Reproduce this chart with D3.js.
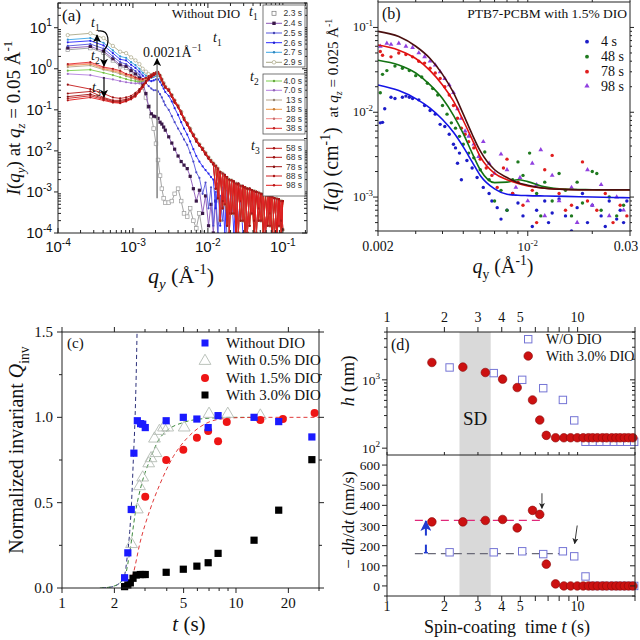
<!DOCTYPE html>
<html><head><meta charset="utf-8">
<script src="https://cdn.jsdelivr.net/npm/d3@7/dist/d3.min.js"></script>
<style>html,body{margin:0;padding:0;background:#fff}svg{display:block}</style>
</head><body>
<svg id="fig" width="640" height="640" xmlns="http://www.w3.org/2000/svg"></svg>
<script>
// ================= DATA =================
// ---- Panel (a): I(qy) vs qy, without DIO ----
const aQHead = [1.35e-4,2.7e-4,4.05e-4,5.4e-4,6.75e-4,8.1e-4,9.45e-4,1.08e-3,1.22e-3,1.35e-3,1.49e-3,1.62e-3,1.76e-3,1.89e-3,2.03e-3,2.16e-3,2.3e-3,2.43e-3,2.57e-3,2.7e-3];
const aQTail = [0.0030,0.0033,0.0036,0.0040,0.0044,0.0048,0.0053,0.0058,0.0064,0.0070,0.0077,0.0085,0.0093,0.0102,0.0110,0.0118,0.0127,0.0136,0.0146,0.0157,0.0168,0.0180,0.0193,0.0207,0.0222,0.0238,0.0255,0.0273,0.0293,0.0314,0.0336,0.0360,0.0386,0.0414,0.0444,0.0476,0.0510,0.0547,0.0586,0.0628,0.0673,0.0721,0.0773,0.0829,0.0888,0.0952,0.1000];
const aNames = ['2.3 s','2.4 s','2.5 s','2.6 s','2.7 s','2.9 s','4.0 s','7.0 s','13 s','18 s','28 s','38 s','58 s','68 s','78 s','88 s','98 s'];
const h23 = [2.9,3.2,2.45,1.6,1.15,1.05,0.82,0.68,0.5,0.35,0.2,0.12,0.07,0.035,0.015,0.006,0.0025,0.0012,0.0007,0.00055];
const h24 = [3.2,3.5,2.7,1.75,1.25,1.15,0.9,0.75,0.6,0.45,0.25,0.12,0.08,0.07,0.068,0.062,0.05,0.045,0.038,0.032];
const h25 = [3.6,4.0,3.1,2.0,1.45,1.3,1.05,0.88,0.72,0.56,0.45,0.38,0.33,0.3,0.3,0.28,0.24,0.2,0.16,0.13];
const h26 = [4.4,4.8,3.7,2.4,1.7,1.6,1.25,1.05,0.85,0.68,0.58,0.52,0.5,0.52,0.55,0.55,0.48,0.4,0.33,0.27];
const h27 = [5.1,5.6,4.3,2.8,2.0,1.85,1.45,1.23,1.0,0.8,0.68,0.62,0.6,0.63,0.67,0.68,0.6,0.5,0.42,0.35];
const h29 = [6.6,7.3,5.6,3.6,2.6,2.4,1.9,1.6,1.3,1.0,0.85,0.74,0.7,0.72,0.76,0.78,0.68,0.55,0.45,0.37];
const h40 = [0.9,0.95,0.8,0.7,0.62,0.56,0.52,0.5,0.48,0.49,0.53,0.58,0.64,0.7,0.74,0.76,0.64,0.5,0.4,0.34];
const h70 = [0.75,0.7,0.6,0.55,0.5,0.47,0.45,0.44,0.44,0.46,0.5,0.55,0.62,0.68,0.73,0.75,0.63,0.5,0.4,0.34];
const h13 = [1.1,1.2,0.95,0.85,0.75,0.66,0.6,0.56,0.52,0.52,0.55,0.6,0.67,0.73,0.78,0.8,0.66,0.52,0.41,0.35];
const h18 = [1.2,1.3,1.0,0.9,0.8,0.7,0.63,0.58,0.54,0.53,0.57,0.63,0.69,0.75,0.79,0.8,0.67,0.53,0.42,0.35];
const h28 = [1.25,1.35,1.05,0.95,0.85,0.72,0.66,0.6,0.55,0.55,0.58,0.64,0.7,0.76,0.8,0.82,0.68,0.54,0.43,0.36];
const h38 = [1.3,1.45,1.1,1.0,0.9,0.75,0.7,0.62,0.57,0.56,0.6,0.66,0.72,0.78,0.82,0.84,0.7,0.55,0.44,0.37];
const h58 = [0.41,0.32,0.25,0.2,0.19,0.2,0.22,0.26,0.32,0.4,0.5,0.6,0.68,0.74,0.8,0.83,0.7,0.55,0.44,0.37];
const h68 = [0.25,0.28,0.2,0.17,0.17,0.18,0.2,0.24,0.3,0.38,0.48,0.58,0.66,0.73,0.79,0.82,0.69,0.54,0.43,0.36];
const h78 = [0.21,0.24,0.19,0.16,0.16,0.17,0.19,0.23,0.29,0.37,0.47,0.57,0.65,0.72,0.78,0.81,0.68,0.54,0.43,0.36];
const h88 = [0.19,0.22,0.18,0.155,0.15,0.165,0.185,0.22,0.28,0.36,0.46,0.56,0.64,0.71,0.77,0.8,0.67,0.53,0.42,0.35];
const h98 = [0.17,0.2,0.17,0.15,0.145,0.16,0.18,0.21,0.27,0.35,0.45,0.55,0.63,0.7,0.76,0.79,0.66,0.52,0.42,0.35];
const t23 = [0.00055,0.0006,0.0009,0.0012,0.0006,0.0003,0.00025,0.0004,0.0002,0.00013,0.0003,0.0001,0.00005];
const t24 = [0.022,0.0155,0.011,0.0075,0.0055,0.0045,0.0037,0.0024,0.0012,0.0006,0.0011,0.0003,0.0008,0.00015,0.0005,0.0001,0.0006,0.00008];
const t25 = [0.1,0.07,0.05,0.035,0.026,0.019,0.014,0.009,0.0055,0.003,0.0022,0.0009,0.0017,0.0004,0.0013,0.00015,0.001,0.0001,0.0008,0.0002,0.0007,0.00008];
const t26 = [0.22,0.16,0.11,0.075,0.05,0.035,0.025,0.017,0.011,0.0075,0.0055,0.0042,0.0034,0.0028,0.0023,0.002,0.0004,0.0016,0.00015,0.0013,0.0001,0.0011,0.0003,0.001,0.0001,0.0009,0.0002,0.0008,0.0001];
const tailA = [.3,.22,.16,.12,.085,.06,.045,.033,.024,.018,.014,.011,.0085,.0068,.0057,.0049,.0042,.0007,.0031,.0004,.0024,.00015,.002,.0003,.0017,.0001,.0015,.0002,.0013,.00008,.0012,.00015,.0011,.00008,.001,.0002,.0009,.0001,.00085,.00015,.00078,.00008,.0007,.0001,.00065,.0001,.0006];
const tailB = [.31,.23,.17,.125,.09,.063,.047,.035,.025,.019,.0145,.0115,.009,.007,.0058,.005,.0043,.0037,.0002,.0028,.0005,.0022,.0001,.0019,.0003,.0016,.0001,.0014,.0002,.00125,.0001,.00115,.0003,.00105,.0001,.00095,.0002,.00088,.0001,.0008,.00015,.00075,.0001,.00068,.00015,.0006,.00012];
const tailC = [.29,.21,.15,.115,.08,.058,.043,.031,.023,.017,.0135,.0105,.0082,.0065,.0055,.0047,.0012,.0035,.003,.0006,.0026,.0023,.0003,.0019,.0018,.0001,.0016,.0006,.0014,.0013,.0001,.0012,.0011,.0002,.001,.0004,.0009,.00088,.0001,.0008,.0003,.00075,.0007,.0001,.00066,.0002,.0006];
const aHeads = [h23,h24,h25,h26,h27,h29,h40,h70,h13,h18,h28,h38,h58,h68,h78,h88,h98];
const aTails = [t23,t24,t25,t26,tailC,tailB,tailA,tailC,tailB,tailA,tailC,tailB,tailA,tailC,tailB,tailA,tailC];
const aXTicks = [-4,-3,-2,-1];
const aYTicks = [-4,-3,-2,-1,0,1];

// ---- Panel (b): PTB7-PCBM with 1.5% DIO ----
const bNames = ['4 s','48 s','78 s','98 s'];
const bCurveQ = [0.002,0.0025,0.003,0.0035,0.004,0.0045,0.005,0.0055,0.006,0.007,0.008,0.009,0.01,0.012,0.015,0.02,0.025,0.03];
const bFit4 = [0.021,0.018,0.0145,0.0112,0.0082,0.0058,0.0039,0.0026,0.0018,0.00125,0.00108,0.00105,0.00104,0.00103,0.00102,0.001,0.00099,0.00098];
const bFit48 = [0.041,0.036,0.029,0.021,0.0145,0.0092,0.0056,0.0033,0.0021,0.00148,0.0015,0.0016,0.00152,0.00132,0.00124,0.00122,0.00121,0.00121];
const bFit78 = [0.062,0.054,0.043,0.031,0.021,0.0135,0.008,0.0048,0.003,0.0019,0.0016,0.00145,0.00135,0.00127,0.00123,0.00122,0.00122,0.00122];
const bFit98 = [0.09,0.078,0.06,0.043,0.028,0.017,0.0095,0.0055,0.0035,0.0021,0.0017,0.00148,0.00138,0.00127,0.00123,0.00122,0.00122,0.00122];
const bPts4 = [[0.00205,0.0075],[0.0021,0.0076],[0.00215,0.011],[0.0023,0.015],[0.0024,0.0145],[0.0026,0.015],[0.0027,0.0155],[0.0028,0.015],[0.0029,0.0145],[0.0031,0.014],[0.0033,0.012],[0.0035,0.0105],[0.0037,0.0095],[0.0039,0.0072],[0.0041,0.0068],[0.0043,0.0055],[0.0045,0.0042],[0.0046,0.0038],[0.0047,0.0025],[0.0048,0.0033],[0.0049,0.0016],[0.0052,0.0027],[0.0055,0.0022],[0.0058,0.0017],[0.0062,0.0013],[0.0066,0.0011],[0.0068,0.0009],[0.0072,0.00075],[0.0075,0.00055],[0.008,0.0007],[0.0085,0.0011],[0.009,0.00085],[0.0095,0.0006],[0.0105,0.00045],[0.011,0.0007],[0.012,0.0009],[0.0125,0.0005],[0.013,0.00065],[0.014,0.00095],[0.015,0.0006],[0.016,0.0004],[0.017,0.00075],[0.018,0.0011],[0.019,0.0005],[0.02,0.0008],[0.022,0.0006],[0.023,0.00045],[0.024,0.0009],[0.026,0.00055],[0.027,0.0007],[0.028,0.0005],[0.029,0.0009]];
const bPts48 = [[0.00205,0.017],[0.0021,0.028],[0.0022,0.031],[0.0024,0.035],[0.0026,0.033],[0.0028,0.031],[0.003,0.027],[0.0032,0.026],[0.0034,0.022],[0.0036,0.019],[0.0038,0.016],[0.004,0.012],[0.0042,0.0095],[0.0044,0.0075],[0.0046,0.0065],[0.0048,0.0052],[0.005,0.0042],[0.0053,0.0033],[0.0056,0.0029],[0.006,0.0021],[0.0063,0.0034],[0.0066,0.0016],[0.007,0.0009],[0.0075,0.0012],[0.008,0.0007],[0.0085,0.0016],[0.009,0.0026],[0.0095,0.0018],[0.0102,0.0033],[0.011,0.0011],[0.0115,0.0006],[0.012,0.0015],[0.013,0.0009],[0.014,0.0019],[0.015,0.0012],[0.016,0.0006],[0.017,0.0015],[0.018,0.00085],[0.02,0.002],[0.021,0.0019],[0.022,0.0007],[0.024,0.001],[0.026,0.0006],[0.028,0.0008]];
const bPts78 = [[0.00205,0.052],[0.0021,0.047],[0.0023,0.045],[0.0025,0.05],[0.0027,0.048],[0.0029,0.045],[0.0031,0.04],[0.0033,0.038],[0.0035,0.033],[0.0037,0.029],[0.0039,0.025],[0.0041,0.02],[0.0043,0.016],[0.0045,0.012],[0.0047,0.0085],[0.0049,0.0065],[0.0051,0.0055],[0.0053,0.0045],[0.0056,0.0038],[0.006,0.0028],[0.0064,0.0022],[0.0068,0.0018],[0.0072,0.0013],[0.0077,0.0022],[0.008,0.0028],[0.0085,0.0011],[0.009,0.0015],[0.0095,0.0008],[0.0105,0.0012],[0.011,0.0005],[0.012,0.0021],[0.013,0.0031],[0.014,0.0011],[0.015,0.0007],[0.016,0.0008],[0.018,0.0026],[0.019,0.0009],[0.021,0.0007],[0.023,0.0011],[0.025,0.0005],[0.027,0.0008],[0.029,0.0006]];
const bPts98 = [[0.00205,0.06],[0.0022,0.065],[0.0023,0.063],[0.0025,0.065],[0.0027,0.06],[0.0029,0.058],[0.0031,0.05],[0.0033,0.045],[0.0035,0.04],[0.0037,0.036],[0.0039,0.03],[0.0041,0.025],[0.0043,0.021],[0.0045,0.017],[0.0047,0.011],[0.0049,0.0085],[0.0051,0.006],[0.0053,0.0052],[0.0056,0.0042],[0.0059,0.003],[0.0062,0.0045],[0.0066,0.0025],[0.007,0.0019],[0.0075,0.0032],[0.008,0.0021],[0.0088,0.0013],[0.0092,0.0017],[0.01,0.0009],[0.0105,0.0025],[0.011,0.0014],[0.0115,0.0036],[0.012,0.0006],[0.013,0.0018],[0.014,0.0009],[0.016,0.0013],[0.017,0.0005],[0.019,0.0021],[0.02,0.0008],[0.022,0.0014],[0.024,0.0006],[0.026,0.001],[0.028,0.0007]];

// ---- Panel (c): normalized invariant ----
const cNames = ['Without DIO','With 0.5% DIO','With 1.5% DIO','With 3.0% DIO'];
const cT0 = [2.29,2.39,2.50,2.59,2.71,2.83,2.91,3.01,3.97,4.98,5.96,6.92,7.89,12.7,17.6,27.3];
const cQ0 = [0.06,0.206,0.46,0.79,0.98,0.963,0.96,0.94,0.98,1.0,0.99,0.94,1.01,1.0,0.975,0.885];
const cT05 = [2.51,2.71,2.79,2.91,3.15,3.25,3.47,3.40,3.63,3.83,4.05,5.04,7.0,8.97,13.8];
const cQ05 = [0.257,0.46,0.596,0.647,0.73,0.76,0.79,0.875,0.92,0.94,0.94,0.94,1.02,1.02,1.01];
const cT15 = [3.01,3.97,4.98,5.96,6.92,7.89,8.85,13.8,18.6,28.3];
const cQ15 = [0.534,0.75,0.81,0.88,0.92,0.86,0.973,0.985,0.99,1.025];
const cT30 = [2.29,2.39,2.47,2.56,2.67,2.82,2.91,3.01,3.97,4.98,5.96,6.92,7.89,12.7,17.6,27.3];
const cQ30 = [0.008,0.018,0.03,0.057,0.076,0.079,0.079,0.079,0.092,0.11,0.128,0.148,0.203,0.28,0.456,0.752];
const cFit0 = [[1.7,0],[1.9,0.005],[2.05,0.015],[2.15,0.03],[2.27,0.06],[2.33,0.12],[2.38,0.2],[2.45,0.33],[2.51,0.5],[2.57,0.75],[2.63,1.0],[2.67,1.25],[2.7,1.5]];
const cFit05 = [[1.65,0],[1.9,0.006],[2.06,0.018],[2.2,0.04],[2.3,0.066],[2.46,0.22],[2.63,0.43],[2.87,0.61],[3.2,0.75],[3.58,0.865],[3.99,0.92],[4.98,0.97],[6.2,0.99],[8,0.998],[10,1.0],[13,1.0]];
const cFit15 = [[2.3,0],[2.4,0.01],[2.57,0.086],[2.8,0.26],[3.2,0.456],[3.66,0.61],[4.36,0.77],[5.2,0.875],[6.2,0.943],[7.73,0.986],[10.3,0.998],[15,1.0],[30,1.0]];
const cXLabels = [1,2,5,10,20];
const cYLabels = [0,0.5,1.0,1.5];

// ---- Panel (d): thickness and thinning rate ----
const dNames = ['W/O DIO','With 3.0% DIO'];
const dT0 = [2.13,3.63,5.12,6.6,8.37,9.6,11.0,12.0,13.1,14.2,15.5,16.8,18.2,19.8];
const dH0 = [1517,1254,1000,755,508,255,124,124,124,124,124,124,124,124];
const dV0 = [167,167,172,158,172,147,47,0,0,0,0,0,0,0];
const dT3 = [1.72,2.5,3.28,4.04,4.82,5.8,6.33,6.85,7.66,8.47,9.19,9.96,10.7,11.4,12.0,12.7,13.5,14.2,15.1,15.9,16.7,17.6,18.5,19.5];
const dH3 = [1795,1537,1280,1024,771,508,258,154,142,142,142,142,142,142,142,142,142,142,142,142,142,142,142,142];
const dV3 = [318,318,325,330,288,375,355,108,10,0,0,0,0,0,0,0,0,0,0,0,0,0,0,0];
const dRate3 = 325, dRate0 = 160;
const dSD = [2.4, 3.5];
const dXLabels = [1,2,3,4,5,10];
const dVLabels = [0,100,200,300,400,500,600];

// ================= DRAWING =================
const SERIF = '"Liberation Serif","Times New Roman",serif';
const SANS = '"Liberation Sans",Arial,sans-serif';
const svg = d3.select('#fig');
svg.append('rect').attr('width',640).attr('height',640).attr('fill','#fff');
const defs = svg.append('defs');
function arrowMarker(id, color, size){
  defs.append('marker').attr('id',id).attr('viewBox','0 0 10 10').attr('refX',9).attr('refY',5)
    .attr('markerWidth',size).attr('markerHeight',size).attr('markerUnits','userSpaceOnUse').attr('orient','auto')
    .append('path').attr('d','M0,0L10,5L0,10L2.5,5z').attr('fill',color);
}
arrowMarker('ahk','#000',8); arrowMarker('ahb','#1f3ad0',11); arrowMarker('ahs','#222',6);

function rich(p, x, y, parts, o){
  o = o || {};
  const base = o.size || 14;
  const t = p.append('text').attr('x',x).attr('y',y).attr('font-size',base)
    .attr('font-family',o.family||SERIF).attr('text-anchor',o.anchor||'start').attr('fill',o.fill||'#111')
    .style('white-space','pre');
  if (o.rotate) t.attr('transform',`rotate(${o.rotate},${x},${y})`);
  let cur = 0;
  parts.forEach(pt => {
    const s = pt[0], st = pt[1] || '', fs = pt[2] || base;
    let off = 0, f = fs;
    if (st.includes('sup')) { off = -0.42*fs; f = 0.68*fs; }
    else if (st.includes('sub')) { off = 0.28*fs; f = 0.68*fs; }
    const ts = t.append('tspan').text(s).attr('font-size',f);
    if (off - cur !== 0) ts.attr('dy', off - cur);
    cur = off;
    if (st.includes('it')) ts.attr('font-style','italic');
  });
  return t;
}
function frame(g, x0, y0, x1, y1){
  g.append('rect').attr('x',x0).attr('y',y0).attr('width',x1-x0).attr('height',y1-y0)
    .attr('fill','none').attr('stroke','#222').attr('stroke-width',1);
}
function vt(g, x, ys, len){ ys.forEach(y=>g.append('line').attr('x1',x).attr('x2',x+len).attr('y1',y).attr('y2',y).attr('stroke','#222').attr('stroke-width',1)); }
function ht(g, y, xs, len){ xs.forEach(x=>g.append('line').attr('x1',x).attr('x2',x).attr('y1',y).attr('y2',y+len).attr('stroke','#222').attr('stroke-width',1)); }
function clip(id, x0, y0, x1, y1){
  defs.append('clipPath').attr('id',id).append('rect').attr('x',x0).attr('y',y0).attr('width',x1-x0).attr('height',y1-y0);
  return `url(#${id})`;
}
function logMinors(lo, hi){ const out=[]; for(let e=Math.floor(Math.log10(lo)); e<=Math.ceil(Math.log10(hi)); e++){ for(let m=2;m<=9;m++){ const v=m*Math.pow(10,e); if(v>=lo && v<=hi) out.push(v);} } return out; }

// ---------- Panel (a) ----------
(function(){
  const L=58,R=307,T=3,B=233;
  const x = d3.scaleLog().domain([1e-4,0.21]).range([L,R]);
  const y = d3.scaleLog().domain([1e-4,40]).range([B,T]);
  const g = svg.append('g');
  const colors = ['#9a9a9a','#8a55b5','#5555dd','#2a2aff','#3aa6e6','#aaa888','#7ccf4c','#b37ee0','#b8a48a','#f29a45','#f38a8a','#e52a2a','#c41818','#b81515','#a31414','#cf1e1e','#e01a1a'];
  const qAll = aQHead.concat(aQTail);
  const cp = clip('clipA',L,T,R,B);
  const dg = g.append('g').attr('clip-path',cp);
  const line = d3.line().x(d=>x(d[0])).y(d=>y(Math.max(d[1],3e-5)));
  const order = [0,1,2,3,4,5,6,7,8,9,10,12,13,14,15,16,11];
  order.forEach(i=>{
    const vals = aHeads[i].concat(aTails[i]);
    const pts = vals.map((v,k)=>[qAll[k],v]);
    dg.append('path').datum(pts).attr('d',line).attr('fill','none').attr('stroke',colors[i]).attr('stroke-width',0.9);
    const mk = dg.append('g');
    pts.forEach(p=>{
      const cx=x(p[0]), cy=y(Math.max(p[1],3e-5));
      if (i===0) mk.append('rect').attr('x',cx-1.8).attr('y',cy-1.8).attr('width',3.6).attr('height',3.6).attr('fill','#fff').attr('stroke',colors[i]).attr('stroke-width',0.7);
      else if (i===1) mk.append('rect').attr('x',cx-1.6).attr('y',cy-1.6).attr('width',3.2).attr('height',3.2).attr('fill','#3a1848');
      else if (i===5) mk.append('circle').attr('cx',cx).attr('cy',cy).attr('r',1.7).attr('fill','#fff').attr('stroke',colors[i]).attr('stroke-width',0.7);
      else mk.append('circle').attr('cx',cx).attr('cy',cy).attr('r',1.1).attr('fill',d3.color(colors[i]).darker(i>=11?0.8:0.3));
    });
  });
  // 0.0021 marker line
  g.append('line').attr('x1',x(0.0021)).attr('x2',x(0.0021)).attr('y1',y(7e-4)).attr('y2',y(1.75))
    .attr('stroke','#8a8a8a').attr('stroke-width',1.6).attr('marker-end','url(#ahk)');
  rich(g,143,57,[['0.0021Å'],['−1','sup']],{size:14});
  frame(g,L,T,R,B);
  const majX = aXTicks.map(e=>x(Math.pow(10,e)));
  const minX = logMinors(1e-4,0.2).map(v=>x(v));
  ht(g,B,majX,-5); ht(g,B,minX,-3); ht(g,T,majX,5); ht(g,T,minX,3);
  const majY = aYTicks.map(e=>y(Math.pow(10,e)));
  const minY = logMinors(1e-4,40).map(v=>y(v));
  vt(g,L,majY,-4); vt(g,L,minY,3); vt(g,R,majY,-5); vt(g,R,minY,-3);
  aXTicks.forEach(e=>rich(g,x(Math.pow(10,e)),252,[['10'],[(e<0?'-':'')+Math.abs(e),'sup']],{size:15,anchor:'middle',family:SANS}));
  aYTicks.forEach(e=>rich(g,52,y(Math.pow(10,e))+5,[['10'],[(e<0?'-':'')+Math.abs(e),'sup']],{size:15,anchor:'end',family:SANS}));
  rich(g,20,118,[['I','it'],['('],['q','it'],['y','itsub'],[') at '],['q','it'],['z','itsub'],[' = 0.05 Å'],['-1','sup']],{size:19,anchor:'middle',rotate:-90});
  rich(g,181,283,[['q','it'],['y','itsub'],[' (Å'],['-1','sup'],[')']],{size:22,anchor:'middle'});
  rich(g,62,21,[['(a)']],{size:17});
  rich(g,206,18,[['Without DIO']],{size:13,anchor:'middle'});
  // time labels
  [[249,16,'1'],[213,42,'1'],[250,81,'2'],[251,150,'3'],[91,27,'1'],[91,60,'2'],[92,92,'3']].forEach(d=>
    rich(g,d[0],d[1],[['t','it'],[d[2],'sub']],{size:14}));
  // arrows
  g.append('line').attr('x1',97).attr('x2',97).attr('y1',50).attr('y2',35).attr('stroke','#000').attr('stroke-width',1.2).attr('marker-end','url(#ahk)');
  g.append('path').attr('d','M98,31 C110,29 110,44 104,50 L104,66').attr('fill','none').attr('stroke','#000').attr('stroke-width',1.2).attr('marker-end','url(#ahk)');
  g.append('line').attr('x1',104).attr('x2',104).attr('y1',77).attr('y2',97).attr('stroke','#000').attr('stroke-width',1.2).attr('marker-end','url(#ahk)');
  // legend boxes
  const boxes = [[0,6,5,67],[6,12,74,134],[12,17,140,196]];
  const rowY = [13.3,23.3,33,42.7,52.3,62.3, 81,90.3,100,109.3,118.7,128.3, 148.3,157.3,166.7,176,185.3];
  boxes.forEach(b=>{
    g.append('rect').attr('x',263).attr('y',b[2]).attr('width',42).attr('height',b[3]-b[2]).attr('fill','#fff').attr('stroke','#555').attr('stroke-width',0.8);
    for(let i=b[0];i<b[1];i++){
      const yy=rowY[i];
      if (i!==0) g.append('line').attr('x1',266).attr('x2',282).attr('y1',yy).attr('y2',yy).attr('stroke',colors[i]).attr('stroke-width',1);
      if (i===0) g.append('rect').attr('x',272).attr('y',yy-2).attr('width',4).attr('height',4).attr('fill','#fff').attr('stroke','#777').attr('stroke-width',0.7);
      else if (i===1) g.append('rect').attr('x',272.3).attr('y',yy-1.7).attr('width',3.4).attr('height',3.4).attr('fill','#3a1848');
      else if (i===5) g.append('circle').attr('cx',274).attr('cy',yy).attr('r',1.8).attr('fill','#fff').attr('stroke',colors[i]).attr('stroke-width',0.7);
      else g.append('circle').attr('cx',274).attr('cy',yy).attr('r',1.2).attr('fill',d3.color(colors[i]).darker(0.6));
      rich(g,302,yy+3,[[aNames[i]]],{size:8.5,anchor:'end',family:SANS,fill:'#333'});
    }
  });
})();

// ---------- Panel (b) ----------
(function(){
  const L=378,R=630,T=2,B=231;
  const x = d3.scaleLog().domain([0.002,0.03]).range([L,R]);
  const y = d3.scaleLog().domain([Math.pow(10,-3.4),Math.pow(10,-0.7)]).range([B,T]);
  const g = svg.append('g');
  const cp = clip('clipB',L,T,R,B);
  const dg = g.append('g').attr('clip-path',cp);
  const ptCol = ['#1c1cc8','#1f7a1f','#e01e1e','#9040e0'];
  const fitCol = ['#1414e6','#137313','#e01010','#4a0f0f'];
  const pts = [bPts4,bPts48,bPts78,bPts98];
  const fits = [bFit4,bFit48,bFit78,bFit98];
  pts.forEach((arr,i)=>{
    arr.forEach(p=>{
      if (i===3) dg.append('path').attr('d',d3.symbol(d3.symbolTriangle,10)()).attr('transform',`translate(${x(p[0])},${y(p[1])})`).attr('fill',ptCol[i]);
      else dg.append('circle').attr('cx',x(p[0])).attr('cy',y(p[1])).attr('r',1.7).attr('fill',ptCol[i]);
    });
  });
  const line = d3.line().x(d=>x(d[0])).y(d=>y(d[1])).curve(d3.curveMonotoneX);
  fits.forEach((f,i)=>{
    dg.append('path').datum(bCurveQ.map((q,k)=>[q,f[k]])).attr('d',line).attr('fill','none').attr('stroke',fitCol[i]).attr('stroke-width',1.6);
  });
  frame(g,L,T,R,B);
  const majX=[0.002,0.01,0.03].map(x), minX=[0.003,0.004,0.005,0.006,0.007,0.008,0.009,0.02].map(x);
  ht(g,B,majX,5); ht(g,B,minX,3); ht(g,T,majX,-4); ht(g,T,minX,-2);
  const majY=[1e-3,1e-2,1e-1].map(y), minY=logMinors(4e-4,0.19).map(y);
  vt(g,L,majY,-5); vt(g,L,minY,-3); vt(g,R,majY,4); vt(g,R,minY,2);
  rich(g,x(0.002),251,[['0.002']],{size:14,anchor:'middle'});
  rich(g,x(0.01),251,[['10'],['-2','sup']],{size:13,anchor:'middle'});
  rich(g,626,251,[['0.03']],{size:14,anchor:'middle'});
  [-1,-2,-3].forEach(e=>rich(g,373,y(Math.pow(10,e))+4,[['10'],['-'+Math.abs(e),'sup']],{size:13,anchor:'end'}));
  rich(g,338,115,[['I','it',20],['(','',20],['q','it',20],[') (cm','',20],['-1','sup',20],[')  ','',20],['at ','',15],['q','it',15],['z','itsub',15],[' = 0.025 Å','',15],['-1','sup',15]],{size:15,anchor:'middle',rotate:-90});
  rich(g,503,273,[['q','it'],['y','sub'],[' (Å'],['-1','sup'],[')']],{size:20,anchor:'middle'});
  rich(g,382,19,[['(b)']],{size:16});
  rich(g,627,18,[['PTB7-PCBM with 1.5% DIO']],{size:13.5,anchor:'end'});
  const ly=[41.7,56.7,71.7,86];
  bNames.forEach((nm,i)=>{
    if (i===3) g.append('path').attr('d',d3.symbol(d3.symbolTriangle,12)()).attr('transform',`translate(587,${ly[i]})`).attr('fill',ptCol[i]);
    else g.append('circle').attr('cx',587).attr('cy',ly[i]).attr('r',1.9).attr('fill',ptCol[i]);
    rich(g,601,ly[i]+4.5,[[nm]],{size:14});
  });
})();

// ---------- Panel (c) ----------
(function(){
  const L=62,R=319,T=332,B=588;
  const x = d3.scaleLog().domain([1,30]).range([L,R]);
  const y = d3.scaleLinear().domain([0,1.5]).range([B,T]);
  const g = svg.append('g');
  const cp = clip('clipC',L,T,R,B);
  const dg = g.append('g').attr('clip-path',cp);
  const line = d3.line().x(d=>x(d[0])).y(d=>y(d[1])).curve(d3.curveMonotoneX);
  [[cFit0,'#2b2f7a'],[cFit05,'#3f8a3f'],[cFit15,'#e03a3a']].forEach(f=>
    dg.append('path').datum(f[0]).attr('d',line).attr('fill','none').attr('stroke',f[1]).attr('stroke-width',1).attr('stroke-dasharray','4,3'));
  const tri = d3.symbol(d3.symbolTriangle,60)();
  cT05.forEach((t,i)=>g.append('path').attr('d',tri).attr('transform',`translate(${x(t)},${y(cQ05[i])})`).attr('fill','none').attr('stroke','#b4bcb4').attr('stroke-width',0.9));
  cT30.forEach((t,i)=>g.append('rect').attr('x',x(t)-3.6).attr('y',y(cQ30[i])-3.6).attr('width',7.2).attr('height',7.2).attr('fill','#000'));
  cT15.forEach((t,i)=>g.append('circle').attr('cx',x(t)).attr('cy',y(cQ15[i])).attr('r',4).attr('fill','#ee1515'));
  cT0.forEach((t,i)=>g.append('rect').attr('x',x(t)-3.6).attr('y',y(cQ0[i])-3.6).attr('width',7.2).attr('height',7.2).attr('fill','#1a1aff'));
  frame(g,L,T,R,B);
  const yMaj=[0,0.5,1.0,1.5].map(y), yMin=[0.25,0.75,1.25].map(y);
  vt(g,L,yMaj,-5); vt(g,L,yMin,-3); vt(g,R,yMaj,5); vt(g,R,yMin,3);
  const xMaj=cXLabels.map(x), xMin=[3,4,6,7,8,9,30].map(x);
  ht(g,B,xMaj,5); ht(g,B,xMin,3); ht(g,T,xMaj,-5); ht(g,T,xMin,-3);
  cYLabels.forEach(v=>rich(g,53,y(v)+5,[[v.toFixed(1)]],{size:15,anchor:'end'}));
  cXLabels.forEach(v=>rich(g,x(v),608,[[String(v)]],{size:15,anchor:'middle'}));
  rich(g,23,450,[['Normalized invariant '],['Q','it'],['inv','sub']],{size:20,anchor:'middle',rotate:-90});
  rich(g,189,631,[['t','it'],[' (s)']],{size:21,anchor:'middle'});
  rich(g,67,348,[['(c)']],{size:15});
  const ly=[343,360,378,395];
  g.append('rect').attr('x',201.5).attr('y',ly[0]-3.5).attr('width',7).attr('height',7).attr('fill','#1a1aff');
  g.append('path').attr('d',tri).attr('transform',`translate(205,${ly[1]+1})`).attr('fill','none').attr('stroke','#b4bcb4').attr('stroke-width',0.9);
  g.append('circle').attr('cx',205).attr('cy',ly[2]).attr('r',4).attr('fill','#ee1515');
  g.append('rect').attr('x',201.5).attr('y',ly[3]-3.5).attr('width',7).attr('height',7).attr('fill','#000');
  cNames.forEach((nm,i)=>rich(g,226,ly[i]+5,[[nm]],{size:15}));
})();

// ---------- Panel (d) ----------
(function(){
  const L=387,R=635,T=332,M=455,B=596;
  const x = d3.scaleLog().domain([1,20]).range([L,R]);
  const yh = d3.scaleLog().domain([Math.pow(10,1.9),Math.pow(10,3.7)]).range([M,T]);
  const yv = d3.scaleLinear().domain([-50,650]).range([B,M]);
  const g = svg.append('g');
  g.append('rect').attr('x',x(dSD[0])).attr('y',T).attr('width',x(dSD[1])-x(dSD[0])).attr('height',B-T).attr('fill','#d9d9d9');
  rich(g,(x(dSD[0])+x(dSD[1]))/2,425,[['SD']],{size:19,anchor:'middle'});
  // dashed guides
  g.append('line').attr('x1',x(1.4)).attr('x2',x(6.55)).attr('y1',yv(dRate3)).attr('y2',yv(dRate3)).attr('stroke','#e0287a').attr('stroke-width',1.3).attr('stroke-dasharray','8,5');
  g.append('line').attr('x1',x(1.4)).attr('x2',x(10)).attr('y1',yv(dRate0)).attr('y2',yv(dRate0)).attr('stroke','#6a6a78').attr('stroke-width',1.3).attr('stroke-dasharray','8,5');
  // blue arrow
  g.append('line').attr('x1',x(1.6)).attr('x2',x(1.6)).attr('y1',yv(250)).attr('y2',yv(322)).attr('stroke','#1f3ad0').attr('stroke-width',2).attr('marker-end','url(#ahb)');
  g.append('line').attr('x1',x(1.6)).attr('x2',x(1.6)).attr('y1',yv(165)).attr('y2',yv(205)).attr('stroke','#1f3ad0').attr('stroke-width',2);
  g.append('line').attr('x1',x(1.6)-2).attr('x2',x(1.6)+2).attr('y1',yv(165)).attr('y2',yv(165)).attr('stroke','#1f3ad0').attr('stroke-width',1.5);
  // black small arrows
  g.append('line').attr('x1',x(6.5)).attr('x2',x(6.5)).attr('y1',yv(460)).attr('y2',yv(385)).attr('stroke','#222').attr('stroke-width',0.9).attr('marker-end','url(#ahs)');
  g.append('line').attr('x1',x(9.95)).attr('x2',x(9.65)).attr('y1',yv(300)).attr('y2',yv(210)).attr('stroke','#222').attr('stroke-width',0.9).attr('marker-end','url(#ahs)');
  // data
  const sqC='#7575d5', ciF='#cc1111', ciS='#8a0a0a';
  dT0.forEach((t,i)=>{
    g.append('rect').attr('x',x(t)-3.7).attr('y',yh(dH0[i])-3.7).attr('width',7.4).attr('height',7.4).attr('fill','#fff').attr('stroke',sqC).attr('stroke-width',1);
    g.append('rect').attr('x',x(t)-3.7).attr('y',yv(dV0[i])-3.7).attr('width',7.4).attr('height',7.4).attr('fill','#fff').attr('stroke',sqC).attr('stroke-width',1);
  });
  dT3.forEach((t,i)=>{
    g.append('circle').attr('cx',x(t)).attr('cy',yh(dH3[i])).attr('r',4.3).attr('fill',ciF).attr('stroke',ciS).attr('stroke-width',0.6);
    g.append('circle').attr('cx',x(t)).attr('cy',yv(dV3[i])).attr('r',4.3).attr('fill',ciF).attr('stroke',ciS).attr('stroke-width',0.6);
  });
  frame(g,L,T,R,B);
  g.append('line').attr('x1',L).attr('x2',R).attr('y1',M).attr('y2',M).attr('stroke','#222');
  const xMaj=[1,2,3,4,5,6,7,8,9,10,20].map(x);
  ht(g,B,xMaj,5); ht(g,T,xMaj,-5); ht(g,M,xMaj,-3);
  const hMaj=[100,1000].map(yh), hMin=[200,300,400,500,600,700,800,900,2000,3000,4000,5000].map(yh);
  vt(g,L,hMaj,-5); vt(g,L,hMin,-3); vt(g,R,hMaj,-5); vt(g,R,hMin,-3);
  const vMaj=dVLabels.map(yv), vMin=[-50,50,150,250,350,450,550].map(yv);
  vt(g,L,vMaj,-5); vt(g,L,vMin,-3); vt(g,R,vMaj,-5); vt(g,R,vMin,-3);
  dXLabels.forEach(v=>{ rich(g,x(v),611,[[String(v)]],{size:14,anchor:'middle'}); rich(g,x(v),322,[[String(v)]],{size:14,anchor:'middle'}); });
  [[1000,'3'],[100,'2']].forEach(d=>rich(g,380,yh(d[0])+5,[['10'],[d[1],'sup']],{size:13.5,anchor:'end'}));
  dVLabels.forEach(v=>rich(g,380,yv(v)+5,[[String(v)]],{size:13.5,anchor:'end'}));
  rich(g,354,381,[['h','it'],[' (nm)']],{size:19,anchor:'middle',rotate:-90});
  rich(g,354,520,[['− d'],['h','it'],['/d'],['t','it'],[' (nm/s)']],{size:17,anchor:'middle',rotate:-90});
  rich(g,507,633,[['Spin-coating\u00a0\u00a0time '],['t','it'],[' (s)']],{size:18,anchor:'middle'});
  rich(g,391,350,[['(d)']],{size:16});
  g.append('rect').attr('x',524.5).attr('y',335.5).attr('width',7.4).attr('height',7.4).attr('fill','#fff').attr('stroke',sqC).attr('stroke-width',1);
  g.append('circle').attr('cx',528.2).attr('cy',356).attr('r',4.3).attr('fill',ciF).attr('stroke',ciS).attr('stroke-width',0.6);
  rich(g,546,344,[[dNames[0]]],{size:14});
  rich(g,546,361,[[dNames[1]]],{size:14});
})();
</script>
</body></html>
